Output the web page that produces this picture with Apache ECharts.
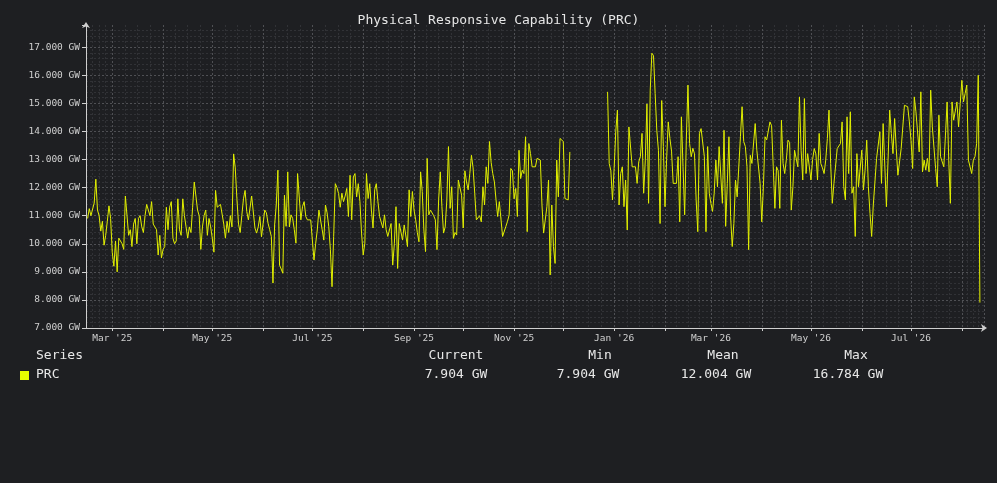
<!DOCTYPE html>
<html>
<head>
<meta charset="utf-8">
<title>Physical Responsive Capability (PRC)</title>
<script src="https://cdn.jsdelivr.net/npm/echarts@6/dist/echarts.min.js"></script>
<style>
html, body { margin: 0; padding: 0; background: #1e1f22; }
#main { width: 997px; height: 483px; }
</style>
</head>
<body>
<div id="main"></div>
<script>
// daily PRC readings (MW), one array per month
var feb25 = [10900, 11250, 11000, 10950, 11450, 12300, 11200, 11000, 10450, 10800, 9950, 10300, 10800, 11350, 10900];
var mar25 = [9700, 9200, 10100, 9000, 10200, 10200, 10000, 9800, 11700, 11000, 10300, 10500, 9900, 10700, 10900, 10000, 10900, 11000, 10600, 10400, 11000, 11400, 11200, 11000, 11500, 10700, 10700, 10500, 9600, 10300, 9500];
var apr25 = [9800, 9900, 11300, 10500, 11300, 11500, 10200, 10000, 10100, 11600, 10500, 10300, 11600, 11000, 10600, 10200, 10600, 10400, 11300, 12200, 11700, 11200, 11000, 9800, 10600, 11000, 11200, 10300, 10900, 10600];
var may25 = [10200, 9700, 11900, 11300, 11300, 11400, 11400, 10700, 10200, 10800, 10400, 11000, 10600, 13200, 12700, 11600, 10700, 10400, 11000, 11600, 11900, 11150, 10850, 10900, 11700, 11700, 10560, 10380, 10600, 10970, 10250];
var jun25 = [10250, 11200, 11100, 10730, 10500, 10260, 8600, 10670, 11380, 12620, 9240, 9100, 8950, 11730, 10620, 12560, 10600, 11030, 10900, 10500, 10020, 12500, 12500, 10850, 11320, 11500, 10970, 10850, 10780, 10850];
var jul25 = [10800, 9420, 10000, 10490, 11200, 10850, 10500, 10130, 11380, 11100, 10620, 9790, 8470, 10260, 12140, 12000, 11790, 11300, 11800, 11500, 11700, 11970, 10970, 12440, 10850, 12380, 12500, 11670, 12140, 11500, 10380];
var aug25 = [9600, 10020, 12500, 11610, 12140, 11200, 10560, 11920, 12140, 11500, 10970, 10970, 10560, 11030, 10500, 10260, 10300, 10720, 9240, 10000, 11320, 9120, 10720, 10700, 10130, 10670, 10600, 9900, 11920, 10970, 11860];
var sep25 = [11200, 10850, 10400, 10070, 12560, 11860, 10490, 9720, 13040, 11030, 11200, 11270, 11000, 10850, 9790, 11560, 12560, 11320, 10380, 10600, 11560, 13460, 11260, 12030, 10190, 10400, 10310, 12270, 12200, 11730];
var oct25 = [10560, 12600, 12200, 11920, 12500, 13150, 12700, 11800, 10850, 10900, 11000, 10780, 12030, 11380, 12740, 12150, 13640, 12900, 12500, 12200, 11560, 10970, 11500, 11500, 10260, 10260, 10620, 10800, 11030, 12680, 12600];
var nov25 = [11600, 11970, 10970, 13330, 12320, 12620, 12500, 13810, 10430, 13570, 13210, 12740, 12740, 12740, 13040, 13040, 12980, 11380, 10380, 10380, 11320, 12270, 8890, 11380, 9900, 9300, 12980, 11670, 13750, 13700];
var dec25 = [13640, 11610, 11560, 11560, 13270,
  null, null, null, null, null, null, null, null, null, null, null,
  null, null, null, null, null, null, null, null, null, null, null,
  15410, 12860, 12600, 11560];
var jan26 = [12680, 14000, 14760, 11380, 12500, 12740, 11320, 12270, 10490, 14160, 14220, 12740, 12740, 12740, 12150, 12920, 13100, 13930, 11800, 12980, 14980, 11440, 15470, 16784, 16700, 15350, 14040, 13330, 10720, 15100, 13460];
var feb26 = [11320, 13000, 14340, 13750, 13300, 12150, 12100, 12150, 13100, 10780, 14520, 12740, 11030, 13690, 15650, 13570, 13100, 13400, 13200, 11560, 10430, 13930, 14100, 14150, 13100, 10430, 13460, 11800];
var mar26 = [11440, 11150, 11800, 12980, 12030, 13460, 13400, 11440, 14040, 10620, 12150, 13810, 10970, 9900, 10720, 12270, 11670, 11700, 13810, 14880, 13640, 13460, 12740, 9790, 13150, 12860, 12800, 14280, 13330, 13300, 12150];
var apr26 = [10780, 12030, 13810, 13700, 13750, 14340, 14200, 12740, 11260, 12740, 12600, 11260, 14400, 12860, 12500, 13000, 13690, 13600, 11200, 12030, 13330, 13300, 12740, 15230, 13330, 12270, 15170, 12500, 13210, 13200];
var may26 = [12270, 13000, 13390, 13200, 12270, 13930, 12860, 12700, 12500, 12980, 13750, 14760, 12860, 11440, 12150, 12150, 13390, 13400, 13570, 14340, 12030, 11560, 14520, 12500, 14700, 11800, 12030, 10260, 13210, 12030, 12030];
var jun26 = [13330, 11920, 12620, 13690, 12030, 11080, 10260, 11380, 12200, 13040, 13040, 13990, 12150, 14280, 14280, 11320, 12980, 14760, 13930, 13210, 14460, 13390, 12440, 12440, 13390, 14160, 14930, 14900, 14880, 14340];
var jul26 = [13690, 12680, 15230, 14700, 14700, 13270, 15410, 12560, 12980, 12620, 13040, 12560, 15470, 14160, 14160, 12680, 12030, 14580, 13100, 13100, 12740, 13870, 15050, 12980, 11440, 15050, 14400, 14400, 15050, 14160, 14990];
var aug26 = [15820, 15050, 15350, 15650, 12980, 12980, 12500, 12980, 13100, 13570, 16000, 7904];

// summary row as printed under the chart: current, min, mean, max (MW)
var tableHeads = ['Series', 'Current', 'Min', 'Mean', 'Max'];
var tableStats = [7904, 7904, 12004, 16784];
var seriesName = 'PRC';
var monthNames = ['Jan', 'Feb', 'Mar', 'Apr', 'May', 'Jun', 'Jul', 'Aug', 'Sep', 'Oct', 'Nov', 'Dec'];

var DAY = 86400000;
var blocks = [
  [Date.UTC(2025, 1, 14), feb25], [Date.UTC(2025, 2, 1), mar25], [Date.UTC(2025, 3, 1), apr25],
  [Date.UTC(2025, 4, 1), may25], [Date.UTC(2025, 5, 1), jun25], [Date.UTC(2025, 6, 1), jul25],
  [Date.UTC(2025, 7, 1), aug25], [Date.UTC(2025, 8, 1), sep25], [Date.UTC(2025, 9, 1), oct25],
  [Date.UTC(2025, 10, 1), nov25], [Date.UTC(2025, 11, 1), dec25], [Date.UTC(2026, 0, 1), jan26],
  [Date.UTC(2026, 1, 1), feb26], [Date.UTC(2026, 2, 1), mar26], [Date.UTC(2026, 3, 1), apr26],
  [Date.UTC(2026, 4, 1), may26], [Date.UTC(2026, 5, 1), jun26], [Date.UTC(2026, 6, 1), jul26],
  [Date.UTC(2026, 7, 1), aug26]
];

var prcData = [];
blocks.forEach(function (b) {
  b[1].forEach(function (v, i) {
    prcData.push([b[0] + i * DAY, v]);
  });
});

function gw(v) { return (v / 1000).toFixed(3) + ' GW'; }

var font = '"DejaVu Sans Mono", monospace';
var lineColor = '#e2f000';

var myChart = echarts.init(document.getElementById('main'));

// y ticks 7000..17000 plus the extent end, which gets no line
var ySplitColors = [];
for (var k = 0; k < 11; k++) ySplitColors.push('#4f5054');
ySplitColors.push('rgba(0,0,0,0)');

function cellText(x, y, text, align) {
  return {
    type: 'text', x: x, y: y,
    style: { text: text, fill: '#e8e8e8', font: '13px ' + font, textAlign: align, textVerticalAlign: 'middle' }
  };
}

var option = {
  backgroundColor: '#1e1f22',
  animation: false,
  useUTC: true,
  title: {
    text: 'Physical Responsive Capability (PRC)',
    left: 'center',
    top: 9,
    textStyle: { color: '#e6e6e6', fontFamily: font, fontSize: 13, fontWeight: 'normal' }
  },
  grid: { left: 86, right: 13, top: 25, bottom: 155, containLabel: false },
  xAxis: {
    type: 'time',
    min: Date.UTC(2025, 1, 13),
    max: Date.UTC(2026, 7, 14, 12),
    minInterval: 28 * DAY,
    maxInterval: 31 * DAY,
    axisLine: { show: true, lineStyle: { color: '#cfcfcf', width: 1 }, symbol: ['none', 'arrow'], symbolSize: [6, 6], symbolOffset: [0, 3] },
    axisTick: { show: true, length: 3, lineStyle: { color: '#cfcfcf' } },
    axisLabel: {
      color: '#d0d0d0', fontFamily: font, fontSize: 9.5, margin: 6, interval: 0, hideOverlap: false,
      formatter: function (val) {
        var d = new Date(val);
        if (d.getUTCDate() !== 1 || d.getUTCHours() !== 0) return '';
        var m = d.getUTCMonth();
        if (m % 2 !== 0) return '';
        return monthNames[m] + " '" + String(d.getUTCFullYear()).slice(2);
      }
    },
    splitLine: { show: true, lineStyle: { color: '#4f5054', type: [2, 2], width: 1 } },
    minorTick: { show: false, splitNumber: 4 },
    minorSplitLine: { show: true, lineStyle: { color: '#313236', type: [2, 2], width: 1 } }
  },
  yAxis: {
    type: 'value',
    min: 7000,
    max: 17790,
    interval: 1000,
    axisLine: { show: true, lineStyle: { color: '#cfcfcf', width: 1 }, symbol: ['none', 'arrow'], symbolSize: [6, 6], symbolOffset: [0, 3] },
    axisTick: { show: true, length: 4, lineStyle: { color: '#cfcfcf' } },
    axisLabel: {
      color: '#d0d0d0', fontFamily: font, fontSize: 9.5, margin: 6,
      formatter: function (v) { return v % 1000 === 0 ? gw(v) : ''; }
    },
    splitLine: { show: true, lineStyle: { color: ySplitColors, type: [2, 2], width: 1 } },
    minorTick: { show: false, splitNumber: 5 },
    minorSplitLine: { show: true, lineStyle: { color: '#313236', type: [2, 2], width: 1 } }
  },
  series: [{
    name: seriesName,
    type: 'line',
    data: prcData,
    showSymbol: false,
    connectNulls: false,
    sampling: false,
    lineStyle: { color: lineColor, width: 1 },
    itemStyle: { color: lineColor }
  }],
  graphic: [
    cellText(36, 356, tableHeads[0], 'left'),
    cellText(456, 356, tableHeads[1], 'center'),
    cellText(600, 356, tableHeads[2], 'center'),
    cellText(723, 356, tableHeads[3], 'center'),
    cellText(856, 356, tableHeads[4], 'center'),
    { type: 'rect', shape: { x: 20, y: 371, width: 9, height: 9 }, style: { fill: '#e8ff00' } },
    cellText(36, 375, seriesName, 'left'),
    cellText(456, 375, gw(tableStats[0]), 'center'),
    cellText(588, 375, gw(tableStats[1]), 'center'),
    cellText(716, 375, gw(tableStats[2]), 'center'),
    cellText(848, 375, gw(tableStats[3]), 'center')
  ]
};

myChart.setOption(option);
</script>
</body>
</html>
